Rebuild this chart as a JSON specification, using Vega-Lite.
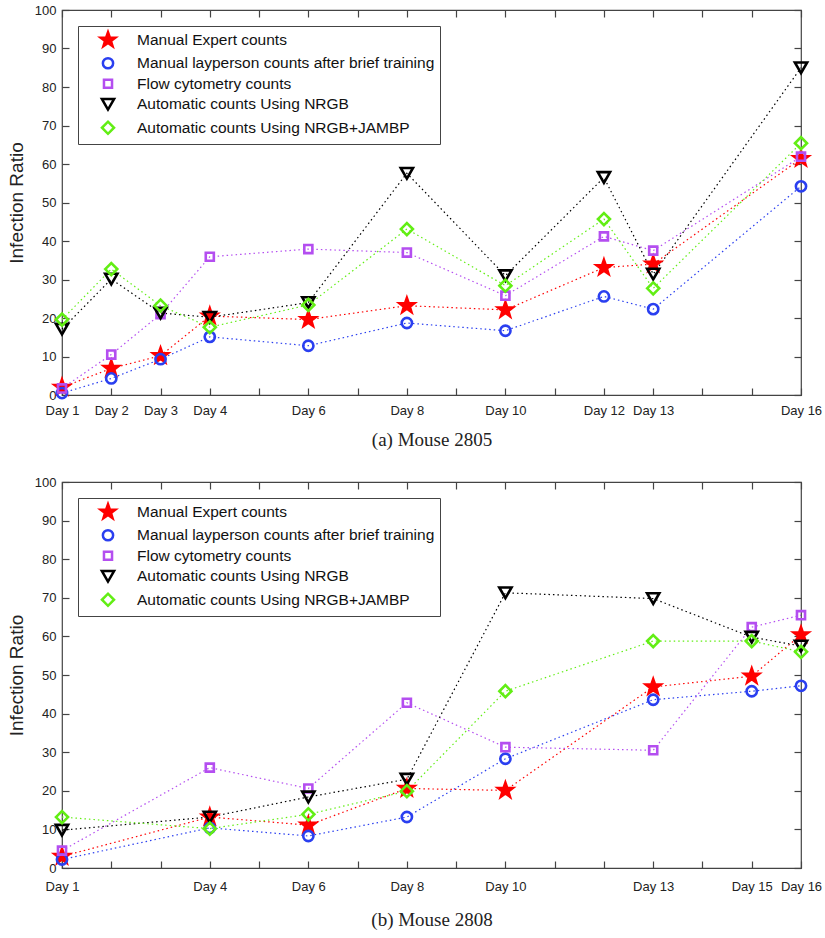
{
  "$schema": "https://vega.github.io/schema/vega-lite/v6.json",
  "padding": {"left": 6, "top": 3, "right": 20, "bottom": 5},
  "spacing": 25,
  "resolve": {
    "scale": {"color": "independent", "shape": "independent", "fill": "independent", "size": "independent"},
    "legend": {"color": "independent", "shape": "independent", "fill": "independent", "size": "independent"}
  },
  "config": {
    "font": "Liberation Sans",
    "view": {"stroke": "#444", "strokeWidth": 1.2},
    "axis": {"grid": false, "domain": false, "tickColor": "#444", "tickWidth": 1.2, "tickSize": 7, "offset": -7, "labelColor": "#222", "labelFont": "Liberation Sans", "labelFontSize": 13, "titleFontWeight": "normal", "titleColor": "#222"},
    "legend": {"strokeColor": "#444", "fillColor": "white", "padding": 5, "labelFontSize": 15.5, "labelFont": "Liberation Sans", "labelColor": "#111", "labelLimit": 0, "rowPadding": 0.5, "symbolOffset": 16, "labelOffset": 20, "symbolStrokeWidth": 2.5}
  },
  "datasets": {
    "a": [
      {"day": 1, "series": "Manual Expert counts", "value": 2},
      {"day": 2, "series": "Manual Expert counts", "value": 6.9},
      {"day": 3, "series": "Manual Expert counts", "value": 10.2},
      {"day": 4, "series": "Manual Expert counts", "value": 20.5},
      {"day": 6, "series": "Manual Expert counts", "value": 19.6},
      {"day": 8, "series": "Manual Expert counts", "value": 23.2},
      {"day": 10, "series": "Manual Expert counts", "value": 22.1},
      {"day": 12, "series": "Manual Expert counts", "value": 33.1},
      {"day": 13, "series": "Manual Expert counts", "value": 34.0},
      {"day": 16, "series": "Manual Expert counts", "value": 61.4},
      {"day": 1, "series": "Manual layperson counts after brief training", "value": 0.5},
      {"day": 2, "series": "Manual layperson counts after brief training", "value": 4.3},
      {"day": 3, "series": "Manual layperson counts after brief training", "value": 9.3},
      {"day": 4, "series": "Manual layperson counts after brief training", "value": 15.1},
      {"day": 6, "series": "Manual layperson counts after brief training", "value": 12.8},
      {"day": 8, "series": "Manual layperson counts after brief training", "value": 18.7},
      {"day": 10, "series": "Manual layperson counts after brief training", "value": 16.7},
      {"day": 12, "series": "Manual layperson counts after brief training", "value": 25.6},
      {"day": 13, "series": "Manual layperson counts after brief training", "value": 22.3},
      {"day": 16, "series": "Manual layperson counts after brief training", "value": 54.2},
      {"day": 1, "series": "Flow cytometry counts", "value": 1.7},
      {"day": 2, "series": "Flow cytometry counts", "value": 10.5},
      {"day": 3, "series": "Flow cytometry counts", "value": 21.0},
      {"day": 4, "series": "Flow cytometry counts", "value": 35.9},
      {"day": 6, "series": "Flow cytometry counts", "value": 37.9},
      {"day": 8, "series": "Flow cytometry counts", "value": 37.0},
      {"day": 10, "series": "Flow cytometry counts", "value": 25.8},
      {"day": 12, "series": "Flow cytometry counts", "value": 41.2},
      {"day": 13, "series": "Flow cytometry counts", "value": 37.5},
      {"day": 16, "series": "Flow cytometry counts", "value": 61.9},
      {"day": 1, "series": "Automatic counts Using NRGB", "value": 17.1},
      {"day": 2, "series": "Automatic counts Using NRGB", "value": 30.1},
      {"day": 3, "series": "Automatic counts Using NRGB", "value": 21.3},
      {"day": 4, "series": "Automatic counts Using NRGB", "value": 20.2},
      {"day": 6, "series": "Automatic counts Using NRGB", "value": 24.0},
      {"day": 8, "series": "Automatic counts Using NRGB", "value": 57.6},
      {"day": 10, "series": "Automatic counts Using NRGB", "value": 31.0},
      {"day": 12, "series": "Automatic counts Using NRGB", "value": 56.5},
      {"day": 13, "series": "Automatic counts Using NRGB", "value": 31.4},
      {"day": 16, "series": "Automatic counts Using NRGB", "value": 85.0},
      {"day": 1, "series": "Automatic counts Using NRGB+JAMBP", "value": 19.6},
      {"day": 2, "series": "Automatic counts Using NRGB+JAMBP", "value": 32.7},
      {"day": 3, "series": "Automatic counts Using NRGB+JAMBP", "value": 23.2},
      {"day": 4, "series": "Automatic counts Using NRGB+JAMBP", "value": 17.6},
      {"day": 6, "series": "Automatic counts Using NRGB+JAMBP", "value": 23.4},
      {"day": 8, "series": "Automatic counts Using NRGB+JAMBP", "value": 43.1},
      {"day": 10, "series": "Automatic counts Using NRGB+JAMBP", "value": 28.4},
      {"day": 12, "series": "Automatic counts Using NRGB+JAMBP", "value": 45.7},
      {"day": 13, "series": "Automatic counts Using NRGB+JAMBP", "value": 27.7},
      {"day": 16, "series": "Automatic counts Using NRGB+JAMBP", "value": 65.4}
    ],
    "b": [
      {"day": 1, "series": "Manual Expert counts", "value": 3.0},
      {"day": 4, "series": "Manual Expert counts", "value": 13.2},
      {"day": 6, "series": "Manual Expert counts", "value": 11.1},
      {"day": 8, "series": "Manual Expert counts", "value": 20.6},
      {"day": 10, "series": "Manual Expert counts", "value": 20.1},
      {"day": 13, "series": "Manual Expert counts", "value": 46.9},
      {"day": 15, "series": "Manual Expert counts", "value": 49.7},
      {"day": 16, "series": "Manual Expert counts", "value": 60.4},
      {"day": 1, "series": "Manual layperson counts after brief training", "value": 2.2},
      {"day": 4, "series": "Manual layperson counts after brief training", "value": 10.4},
      {"day": 6, "series": "Manual layperson counts after brief training", "value": 8.3},
      {"day": 8, "series": "Manual layperson counts after brief training", "value": 13.2},
      {"day": 10, "series": "Manual layperson counts after brief training", "value": 28.3},
      {"day": 13, "series": "Manual layperson counts after brief training", "value": 43.6},
      {"day": 15, "series": "Manual layperson counts after brief training", "value": 45.8},
      {"day": 16, "series": "Manual layperson counts after brief training", "value": 47.2},
      {"day": 1, "series": "Flow cytometry counts", "value": 4.5},
      {"day": 4, "series": "Flow cytometry counts", "value": 26.0},
      {"day": 6, "series": "Flow cytometry counts", "value": 20.6},
      {"day": 8, "series": "Flow cytometry counts", "value": 42.8},
      {"day": 10, "series": "Flow cytometry counts", "value": 31.3},
      {"day": 13, "series": "Flow cytometry counts", "value": 30.5},
      {"day": 15, "series": "Flow cytometry counts", "value": 62.4},
      {"day": 16, "series": "Flow cytometry counts", "value": 65.5},
      {"day": 1, "series": "Automatic counts Using NRGB", "value": 9.8},
      {"day": 4, "series": "Automatic counts Using NRGB", "value": 13.2},
      {"day": 6, "series": "Automatic counts Using NRGB", "value": 18.4},
      {"day": 8, "series": "Automatic counts Using NRGB", "value": 23.0},
      {"day": 10, "series": "Automatic counts Using NRGB", "value": 71.3},
      {"day": 13, "series": "Automatic counts Using NRGB", "value": 69.8},
      {"day": 15, "series": "Automatic counts Using NRGB", "value": 59.8},
      {"day": 16, "series": "Automatic counts Using NRGB", "value": 57.5},
      {"day": 1, "series": "Automatic counts Using NRGB+JAMBP", "value": 13.2},
      {"day": 4, "series": "Automatic counts Using NRGB+JAMBP", "value": 10.2},
      {"day": 6, "series": "Automatic counts Using NRGB+JAMBP", "value": 13.9},
      {"day": 8, "series": "Automatic counts Using NRGB+JAMBP", "value": 19.9},
      {"day": 10, "series": "Automatic counts Using NRGB+JAMBP", "value": 45.8},
      {"day": 13, "series": "Automatic counts Using NRGB+JAMBP", "value": 58.8},
      {"day": 15, "series": "Automatic counts Using NRGB+JAMBP", "value": 58.8},
      {"day": 16, "series": "Automatic counts Using NRGB+JAMBP", "value": 56.0}
    ]
  },
  "vconcat": [
    {
      "width": 739,
      "height": 385,
      "data": {"name": "a"},
      "resolve": {"axis": {"x": "independent", "y": "independent"}},
      "layer": [
        {
          "mark": {"type": "line", "strokeDash": [1.5, 3], "strokeWidth": 1.2},
          "encoding": {
            "x": {"field": "day", "type": "quantitative", "scale": {"domain": [1, 16], "nice": false, "zero": false},
                  "axis": {"orient": "top", "values": [1,2,3,4,5,6,7,8,9,10,11,12,13,14,15,16], "labels": false, "title": null}},
            "y": {"field": "value", "type": "quantitative", "scale": {"domain": [0, 100], "nice": false},
                  "axis": {"orient": "right", "values": [0,10,20,30,40,50,60,70,80,90,100], "labels": false, "title": null}},
            "color": {"field": "series", "type": "nominal"}
          }
        },
        {
          "mark": {"type": "point", "filled": false, "strokeWidth": 2.6, "opacity": 1},
          "encoding": {
            "x": {"field": "day", "type": "quantitative",
                  "axis": {"orient": "bottom", "values": [1,2,3,4,5,6,7,8,9,10,11,12,13,14,15,16], "labelPadding": 9, "labelFlush": false, "labelOverlap": false, "labelBound": false,
                           "labelExpr": "indexof([1,2,3,4,6,8,10,12,13,16], datum.value) >= 0 ? 'Day ' + datum.value : ''",
                           "title": "(a)  Mouse 2805", "titleFont": "Liberation Serif", "titleFontSize": 19, "titlePadding": 13}},
            "y": {"field": "value", "type": "quantitative",
                  "axis": {"orient": "left", "values": [0,10,20,30,40,50,60,70,80,90,100], "labelPadding": 6, "title": "Infection Ratio", "titleFontSize": 19, "titlePadding": 8}},
            "color": {"field": "series", "type": "nominal",
                      "scale": {"domain": ["Manual Expert counts", "Manual layperson counts after brief training", "Flow cytometry counts", "Automatic counts Using NRGB", "Automatic counts Using NRGB+JAMBP"],
                                "range": ["#ff0000", "#2a3ff0", "#b44ef0", "#000000", "#62ee14"]},
                      "legend": {"orient": "top-left", "offset": 16, "title": null}},
            "shape": {"field": "series", "type": "nominal",
                      "scale": {"domain": ["Manual Expert counts", "Manual layperson counts after brief training", "Flow cytometry counts", "Automatic counts Using NRGB", "Automatic counts Using NRGB+JAMBP"],
                                "range": ["M0,-1L0.235,-0.324L0.951,-0.309L0.38,0.124L0.588,0.809L0,0.4L-0.588,0.809L-0.38,0.124L-0.951,-0.309L-0.235,-0.324Z", "circle", "square", "triangle-down", "diamond"]},
                      "legend": {"orient": "top-left", "offset": 16, "title": null}},
            "fill": {"field": "series", "type": "nominal",
                     "scale": {"domain": ["Manual Expert counts", "Manual layperson counts after brief training", "Flow cytometry counts", "Automatic counts Using NRGB", "Automatic counts Using NRGB+JAMBP"],
                               "range": ["#ff0000", "transparent", "transparent", "transparent", "transparent"]},
                     "legend": {"orient": "top-left", "offset": 16, "title": null}},
            "size": {"field": "series", "type": "nominal",
                     "scale": {"type": "ordinal", "domain": ["Manual Expert counts", "Manual layperson counts after brief training", "Flow cytometry counts", "Automatic counts Using NRGB", "Automatic counts Using NRGB+JAMBP"],
                               "range": [240, 105, 65, 150, 145]},
                     "legend": {"orient": "top-left", "offset": 16, "title": null}}
          }
        }
      ]
    },
    {
      "width": 739,
      "height": 386,
      "data": {"name": "b"},
      "resolve": {"axis": {"x": "independent", "y": "independent"}},
      "layer": [
        {
          "mark": {"type": "line", "strokeDash": [1.5, 3], "strokeWidth": 1.2},
          "encoding": {
            "x": {"field": "day", "type": "quantitative", "scale": {"domain": [1, 16], "nice": false, "zero": false},
                  "axis": {"orient": "top", "values": [1,2,3,4,5,6,7,8,9,10,11,12,13,14,15,16], "labels": false, "title": null}},
            "y": {"field": "value", "type": "quantitative", "scale": {"domain": [0, 100], "nice": false},
                  "axis": {"orient": "right", "values": [0,10,20,30,40,50,60,70,80,90,100], "labels": false, "title": null}},
            "color": {"field": "series", "type": "nominal"}
          }
        },
        {
          "mark": {"type": "point", "filled": false, "strokeWidth": 2.6, "opacity": 1},
          "encoding": {
            "x": {"field": "day", "type": "quantitative",
                  "axis": {"orient": "bottom", "values": [1,2,3,4,5,6,7,8,9,10,11,12,13,14,15,16], "labelPadding": 12, "labelFlush": false, "labelOverlap": false, "labelBound": false,
                           "labelExpr": "indexof([1,4,6,8,10,13,15,16], datum.value) >= 0 ? 'Day ' + datum.value : ''",
                           "title": "(b)  Mouse 2808", "titleFont": "Liberation Serif", "titleFontSize": 19, "titlePadding": 17}},
            "y": {"field": "value", "type": "quantitative",
                  "axis": {"orient": "left", "values": [0,10,20,30,40,50,60,70,80,90,100], "labelPadding": 6, "title": "Infection Ratio", "titleFontSize": 19, "titlePadding": 8}},
            "color": {"field": "series", "type": "nominal",
                      "scale": {"domain": ["Manual Expert counts", "Manual layperson counts after brief training", "Flow cytometry counts", "Automatic counts Using NRGB", "Automatic counts Using NRGB+JAMBP"],
                                "range": ["#ff0000", "#2a3ff0", "#b44ef0", "#000000", "#62ee14"]},
                      "legend": {"orient": "top-left", "offset": 16, "title": null}},
            "shape": {"field": "series", "type": "nominal",
                      "scale": {"domain": ["Manual Expert counts", "Manual layperson counts after brief training", "Flow cytometry counts", "Automatic counts Using NRGB", "Automatic counts Using NRGB+JAMBP"],
                                "range": ["M0,-1L0.235,-0.324L0.951,-0.309L0.38,0.124L0.588,0.809L0,0.4L-0.588,0.809L-0.38,0.124L-0.951,-0.309L-0.235,-0.324Z", "circle", "square", "triangle-down", "diamond"]},
                      "legend": {"orient": "top-left", "offset": 16, "title": null}},
            "fill": {"field": "series", "type": "nominal",
                     "scale": {"domain": ["Manual Expert counts", "Manual layperson counts after brief training", "Flow cytometry counts", "Automatic counts Using NRGB", "Automatic counts Using NRGB+JAMBP"],
                               "range": ["#ff0000", "transparent", "transparent", "transparent", "transparent"]},
                     "legend": {"orient": "top-left", "offset": 16, "title": null}},
            "size": {"field": "series", "type": "nominal",
                     "scale": {"type": "ordinal", "domain": ["Manual Expert counts", "Manual layperson counts after brief training", "Flow cytometry counts", "Automatic counts Using NRGB", "Automatic counts Using NRGB+JAMBP"],
                               "range": [240, 105, 65, 150, 145]},
                     "legend": {"orient": "top-left", "offset": 16, "title": null}}
          }
        }
      ]
    }
  ]
}
